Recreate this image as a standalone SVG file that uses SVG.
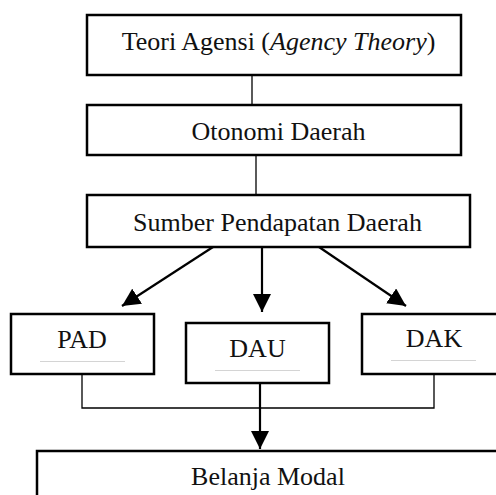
<svg xmlns="http://www.w3.org/2000/svg" width="496" height="495" viewBox="0 0 496 495">
<style>
.box{fill:#fff;stroke:#000;stroke-width:2.5}
.t{font-family:"Liberation Serif","Times New Roman",serif;font-size:26px;fill:#111;text-anchor:middle}
.thin{stroke:#000;stroke-width:1.3;fill:none}
.arr{stroke:#000;stroke-width:2.2;fill:none}
.ul{stroke:#d4d4d4;stroke-width:1}
</style>
<defs>
<marker id="ah" markerUnits="userSpaceOnUse" markerWidth="18" markerHeight="18" viewBox="0 0 16 16" refX="16" refY="8" orient="auto">
<path d="M0,0 L16,8 L0,16 Z" fill="#000"/>
</marker>
</defs>
<rect width="496" height="495" fill="#fff"/>
<g id="connectors">
<line class="thin" x1="252" y1="76" x2="252" y2="104"/>
<line class="thin" x1="256" y1="156" x2="256" y2="195"/>
<line class="arr" x1="213" y1="247" x2="122" y2="306" marker-end="url(#ah)"/>
<line class="arr" x1="262" y1="247" x2="262" y2="312" marker-end="url(#ah)"/>
<line class="arr" x1="319" y1="247" x2="406" y2="306" marker-end="url(#ah)"/>
<polyline class="thin" points="82,374 82,408 434,408 434,374"/>
<line class="arr" x1="260" y1="383" x2="260" y2="449" marker-end="url(#ah)"/>
</g>
<g id="teori">
<rect class="box" x="87" y="15" width="374" height="60"/>
<text class="t" x="278.5" y="50" font-size="25">Teori Agensi (<tspan font-style="italic">Agency Theory</tspan>)</text>
</g>
<g id="otonomi">
<rect class="box" x="87" y="105" width="374" height="50"/>
<text class="t" x="278.5" y="140">Otonomi Daerah</text>
</g>
<g id="sumber">
<rect class="box" x="87" y="195" width="383" height="52"/>
<text class="t" x="277.5" y="231" font-size="26.5">Sumber Pendapatan Daerah</text>
</g>
<g id="pad">
<rect class="box" x="11" y="314" width="143" height="60"/>
<text class="t" x="82" y="348">PAD</text>
<line class="ul" x1="40" y1="361.5" x2="125" y2="361.5"/>
</g>
<g id="dau">
<rect class="box" x="186" y="323" width="143" height="60"/>
<text class="t" x="257.5" y="357">DAU</text>
<line class="ul" x1="215" y1="370.5" x2="300" y2="370.5"/>
</g>
<g id="dak">
<rect class="box" x="362" y="314" width="150" height="60"/>
<text class="t" x="434" y="347">DAK</text>
<line class="ul" x1="391" y1="360.5" x2="476" y2="360.5"/>
</g>
<g id="belanja">
<rect class="box" x="37" y="451" width="480" height="60"/>
<text class="t" x="268" y="485">Belanja Modal</text>
</g>
</svg>
